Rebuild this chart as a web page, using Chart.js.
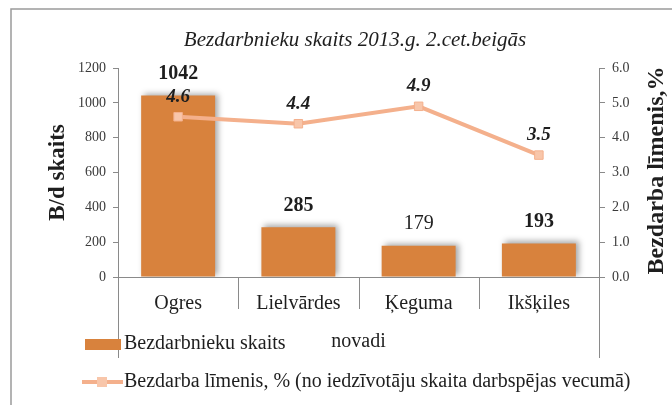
<!DOCTYPE html>
<html>
<head>
<meta charset="utf-8">
<script src="https://cdn.jsdelivr.net/npm/chart.js@4.4.1/dist/chart.umd.min.js"></script>
<style>
  html, body { margin: 0; padding: 0; background: #fff; }
  canvas { display: block; }
</style>
</head>
<body>
<canvas id="chart" width="672" height="405"></canvas>
<script>
// novadi and their figures
const categories = ['Ogres', 'Lielvārdes', 'Ķeguma', 'Ikšķiles'];
const unemployedCount = [1042, 285, 179, 193];
const unemploymentRate = [4.6, 4.4, 4.9, 3.5];
const countLabelBold = [true, true, false, true];
const leftTicks = [0, 200, 400, 600, 800, 1000, 1200];
const rightTicks = [0, 1, 2, 3, 4, 5, 6];

const titleText = 'Bezdarbnieku skaits 2013.g. 2.cet.beigās';
const barLabel = 'Bezdarbnieku skaits';
const lineLabel = 'Bezdarba līmenis, % (no iedzīvotāju skaita darbspējas vecumā)';

const BAR_COLOR = '#D8823D';
const LINE_COLOR = '#F4B08C';
const MARKER_FILL = '#F8C6AA';
const AXIS_COLOR = '#8a8a8a';
const TEXT_COLOR = '#1e1e1e';
const SERIF = '"Liberation Serif", "Times New Roman", serif';

// frame, titles, separators, value labels and the legend
const extras = {
    id: 'extras',
    beforeDatasetDraw(chart, args) {
        if (args.meta.type === 'bar') {
            const ctx = chart.ctx;
            ctx.save();
            ctx.shadowColor = 'rgba(0,0,0,0.35)';
            ctx.shadowBlur = 6;
            ctx.shadowOffsetX = 3;
            ctx.shadowOffsetY = -2;
        }
    },
    afterDatasetDraw(chart, args) {
        if (args.meta.type === 'bar') chart.ctx.restore();
    },
    beforeDraw(chart) {
        const ctx = chart.ctx;
        ctx.save();
        ctx.fillStyle = '#fff';
        ctx.fillRect(0, 0, chart.width, chart.height);
        ctx.strokeStyle = '#9a9a9a';
        ctx.lineWidth = 1.5;
        ctx.strokeRect(11, 9, chart.width + 20, chart.height + 20);
        ctx.restore();
    },
    afterDraw(chart) {
        const ctx = chart.ctx;
        const area = chart.chartArea;
        const x = chart.scales.x;
        const y = chart.scales.y;
        const y1 = chart.scales.y1;
        const midY = (area.top + area.bottom) / 2;
        ctx.save();

        // title
        ctx.fillStyle = TEXT_COLOR;
        ctx.textAlign = 'center';
        ctx.textBaseline = 'middle';
        ctx.font = 'italic 21px ' + SERIF;
        ctx.fillText(titleText, 355, 40);

        // axis titles
        ctx.save();
        ctx.font = 'bold 23px ' + SERIF;
        ctx.translate(58, midY);
        ctx.rotate(-Math.PI / 2);
        ctx.fillText('B/d skaits', 0, 0);
        ctx.restore();
        ctx.save();
        ctx.font = 'bold 24px ' + SERIF;
        ctx.translate(657, midY - 2);
        ctx.rotate(-Math.PI / 2);
        ctx.fillText('Bezdarba līmenis,%', 0, 0);
        ctx.restore();

        // category separators below the axis
        ctx.strokeStyle = AXIS_COLOR;
        ctx.lineWidth = 1;
        for (let i = 1; i < categories.length; i++) {
            const px = Math.round((x.getPixelForValue(i - 1) + x.getPixelForValue(i)) / 2) + 0.5;
            ctx.beginPath();
            ctx.moveTo(px, area.bottom);
            ctx.lineTo(px, area.bottom + 32);
            ctx.stroke();
        }
        [area.left, area.right].forEach(px => {
            ctx.beginPath();
            ctx.moveTo(Math.round(px) + 0.5, area.bottom);
            ctx.lineTo(Math.round(px) + 0.5, area.bottom + 81);
            ctx.stroke();
        });

        // x axis title
        ctx.fillStyle = TEXT_COLOR;
        ctx.font = '20px ' + SERIF;
        ctx.fillText('novadi', (area.left + area.right) / 2, 342);

        // bar value labels
        unemployedCount.forEach((v, i) => {
            ctx.font = (countLabelBold[i] ? 'bold ' : '') + '20px ' + SERIF;
            ctx.fillText(String(v), x.getPixelForValue(i), y.getPixelForValue(v) - 22);
        });

        // rate labels
        ctx.font = 'bold italic 19px ' + SERIF;
        unemploymentRate.forEach((v, i) => {
            ctx.fillText(v.toFixed(1), x.getPixelForValue(i), y1.getPixelForValue(v) - 20);
        });

        // legend
        ctx.textAlign = 'left';
        ctx.font = '20px ' + SERIF;
        ctx.fillStyle = BAR_COLOR;
        ctx.fillRect(85, 339, 36, 11);
        ctx.fillStyle = TEXT_COLOR;
        ctx.fillText(barLabel, 124, 344);

        ctx.strokeStyle = LINE_COLOR;
        ctx.lineWidth = 4;
        ctx.beginPath();
        ctx.moveTo(82, 382);
        ctx.lineTo(123, 382);
        ctx.stroke();
        ctx.fillStyle = MARKER_FILL;
        ctx.fillRect(97, 377, 10, 10);
        ctx.fillStyle = TEXT_COLOR;
        ctx.fillText(lineLabel, 124, 382);

        ctx.restore();
    }
};

new Chart(document.getElementById('chart'), {
    data: {
        labels: categories,
        datasets: [
            {
                type: 'line',
                label: lineLabel,
                data: unemploymentRate,
                yAxisID: 'y1',
                borderColor: LINE_COLOR,
                borderWidth: 4,
                pointStyle: 'rect',
                pointRadius: 6,
                pointBackgroundColor: MARKER_FILL,
                pointBorderColor: LINE_COLOR,
                pointBorderWidth: 1,
                order: 0
            },
            {
                type: 'bar',
                label: barLabel,
                data: unemployedCount,
                yAxisID: 'y',
                backgroundColor: BAR_COLOR,
                categoryPercentage: 1,
                barPercentage: 0.615,
                order: 1
            }
        ]
    },
    options: {
        responsive: false,
        animation: false,
        layout: { padding: { top: 68, left: 0, right: 0, bottom: 0 } },
        plugins: {
            legend: { display: false },
            tooltip: { enabled: false }
        },
        scales: {
            x: {
                offset: true,
                grid: { display: false },
                border: { color: AXIS_COLOR },
                ticks: {
                    color: TEXT_COLOR,
                    padding: 7,
                    font: { family: SERIF, size: 20 }
                },
                afterFit(scale) { scale.height = 128; }
            },
            y: {
                position: 'left',
                min: 0,
                max: 1200,
                afterBuildTicks(scale) { scale.ticks = leftTicks.map(v => ({ value: v })); },
                grid: { drawOnChartArea: false, tickLength: 5, color: AXIS_COLOR },
                border: { color: AXIS_COLOR },
                ticks: {
                    color: '#3a3a3a',
                    padding: 7,
                    font: { family: SERIF, size: 14 },
                    callback: v => String(v)
                },
                afterFit(scale) { scale.width = 118; }
            },
            y1: {
                position: 'right',
                min: 0,
                max: 6,
                afterBuildTicks(scale) { scale.ticks = rightTicks.map(v => ({ value: v })); },
                grid: { drawOnChartArea: false, tickLength: 6, color: AXIS_COLOR },
                border: { color: AXIS_COLOR },
                ticks: {
                    color: '#3a3a3a',
                    padding: 7,
                    font: { family: SERIF, size: 14 },
                    callback: v => Number(v).toFixed(1)
                },
                afterFit(scale) { scale.width = 73; }
            }
        }
    },
    plugins: [extras]
});
</script>
</body>
</html>
